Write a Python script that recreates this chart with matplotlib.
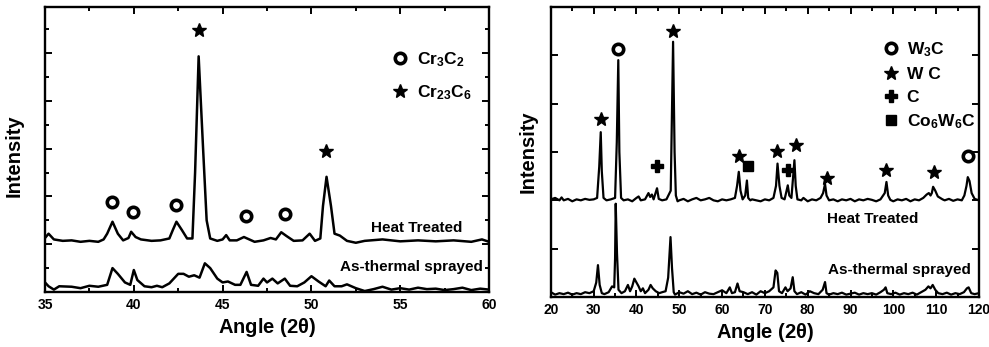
import matplotlib
matplotlib.use("Agg")
import matplotlib.pyplot as plt
from matplotlib.lines import Line2D
from matplotlib.ticker import MultipleLocator, NullFormatter

plt.rcParams['font.family'] = ['Liberation Sans', 'DejaVu Sans']
plt.rcParams['font.weight'] = 'bold'
plt.rcParams['mathtext.fontset'] = 'custom'
plt.rcParams['mathtext.rm'] = 'Liberation Sans:bold'
plt.rcParams['mathtext.bf'] = 'Liberation Sans:bold'
plt.rcParams['mathtext.it'] = 'Liberation Sans:bold'

# ---- left panel: Cr carbide coating (2theta 35-60) ----
cr_ht_x = [35.0, 35.2, 35.5, 36.0, 36.5, 37.0, 37.5, 38.0, 38.3, 38.5, 38.8, 39.1, 39.4, 39.7,
           39.85, 40.1, 40.4, 41.0, 41.5, 42.0, 42.2, 42.4, 42.7, 43.0, 43.3, 43.45, 43.65,
           43.9, 44.1, 44.3, 44.7, 45.0, 45.2, 45.4, 45.8, 46.2, 46.5, 46.8, 47.3, 47.7, 48.0,
           48.3, 48.6, 49.0, 49.5, 49.9, 50.2, 50.5, 50.65, 50.85, 51.1, 51.3, 51.6, 52.0,
           52.5, 53.0, 54.0, 55.0, 56.0, 57.0, 58.0, 59.0, 59.6, 60.0]
cr_ht_y = [1.13, 1.22, 1.10, 1.07, 1.08, 1.05, 1.07, 1.05, 1.10, 1.22, 1.47, 1.22, 1.08, 1.13,
           1.26, 1.15, 1.10, 1.07, 1.08, 1.12, 1.30, 1.47, 1.30, 1.12, 1.12, 2.50, 4.93,
           3.00, 1.50, 1.12, 1.07, 1.10, 1.19, 1.08, 1.08, 1.15, 1.10, 1.05, 1.08, 1.13, 1.10,
           1.25, 1.17, 1.07, 1.08, 1.22, 1.07, 1.12, 1.80, 2.41, 1.80, 1.22, 1.18, 1.07,
           1.03, 1.07, 1.10, 1.06, 1.08, 1.06, 1.08, 1.05, 1.10, 1.05]

cr_as_x = [35.0, 35.2, 35.5, 35.8, 36.5, 37.0, 37.5, 38.0, 38.5, 38.8, 39.1, 39.5, 39.8, 40.0,
           40.2, 40.6, 41.0, 41.3, 41.6, 42.0, 42.5, 42.8, 43.1, 43.4, 43.7, 44.0, 44.3, 44.7,
           45.0, 45.3, 45.7, 46.0, 46.35, 46.6, 47.0, 47.3, 47.5, 47.8, 48.1, 48.5, 48.8,
           49.2, 49.6, 50.0, 50.4, 50.8, 51.0, 51.3, 51.7, 52.0, 52.5, 53.0, 53.5, 54.0,
           54.5, 55.0, 55.5, 56.0, 56.5, 57.0, 57.5, 58.0, 58.5, 59.0, 59.5, 60.0]
cr_as_y = [0.20, 0.12, 0.05, 0.12, 0.11, 0.08, 0.13, 0.11, 0.15, 0.50, 0.38, 0.20, 0.15, 0.46,
           0.25, 0.12, 0.10, 0.13, 0.10, 0.18, 0.38, 0.38, 0.32, 0.35, 0.30, 0.60, 0.50, 0.28,
           0.20, 0.22, 0.15, 0.15, 0.42, 0.15, 0.13, 0.28, 0.20, 0.28, 0.18, 0.28, 0.13,
           0.12, 0.20, 0.33, 0.22, 0.12, 0.24, 0.12, 0.12, 0.16, 0.08, 0.02, 0.06, 0.11,
           0.05, 0.08, 0.05, 0.09, 0.06, 0.07, 0.04, 0.06, 0.09, 0.04, 0.07, 0.05]

cr3c2_x = [38.75, 39.95, 42.35, 46.3, 48.5]
cr3c2_y = [1.89, 1.68, 1.82, 1.59, 1.64]
cr23c6_x = [43.65, 50.8]
cr23c6_y = [5.48, 2.94]

# ---- right panel: WC-Co coating (2theta 20-120) ----
wc_ht_x = [20, 21, 22, 22.5, 23, 24, 25, 26, 27, 28, 29, 30, 30.8, 31.3, 31.65, 31.9, 32.3, 33,
           34, 35, 35.4, 35.75, 36.0, 36.4, 37, 38, 39, 40, 40.5, 41, 42, 42.8, 43.2, 43.6, 44,
           44.8, 45.2, 46, 47, 48.0, 48.55, 48.9, 49.2, 49.6, 50, 51, 52, 53, 54, 55, 56, 57,
           58, 59, 60, 61, 62, 63, 63.5, 63.9, 64.3, 64.8, 65.4, 65.8, 66.1, 66.6, 67, 68, 69,
           70, 71, 72, 72.6, 72.95, 73.4, 73.9, 74.6, 75.05, 75.35, 75.7, 76.2, 76.6, 76.9,
           77.2, 77.6, 78.5, 79, 80, 81, 82, 83, 83.6, 84.05, 84.4, 85, 86, 87, 88, 89, 90,
           91, 92, 93, 94, 95, 96, 97, 98.0, 98.4, 98.8, 99.3, 100, 101, 102, 103, 104, 105,
           106, 107, 107.8, 108.3, 108.7, 109.0, 109.3, 109.8, 110.4, 111.5, 112, 113, 114,
           115, 116, 116.6, 117.1, 117.4, 117.8, 118.3, 119.0, 120]
wc_ht_y = [2.02, 2.05, 2.00, 2.06, 2.00, 2.03, 1.98, 2.02, 2.00, 2.03, 2.01, 2.02, 2.05, 2.70,
           3.41, 2.60, 2.05, 2.00, 2.02, 2.05, 3.20, 4.90, 3.00, 2.05, 2.00, 2.02, 1.98, 2.05,
           2.08, 2.00, 2.02, 2.15, 2.07, 2.12, 2.02, 2.25, 2.03, 2.00, 2.02, 2.20, 5.28, 3.00,
           2.10, 1.98, 2.00, 2.03, 1.98, 2.02, 2.05, 2.00, 2.02, 2.05, 2.00, 1.98, 2.02, 2.00,
           2.02, 2.05, 2.30, 2.59, 2.20, 2.02, 2.10, 2.41, 2.05, 2.00, 2.02, 2.00, 1.98, 2.02,
           2.00, 2.05, 2.30, 2.76, 2.30, 2.05, 2.02, 2.20, 2.31, 2.10, 2.05, 2.50, 2.83, 2.30,
           2.02, 2.00, 2.05, 1.98, 2.02, 2.00, 2.05, 2.15, 2.34, 2.10, 2.00, 2.02, 1.98, 2.02,
           2.00, 2.03, 1.98, 2.02, 2.00, 2.03, 2.01, 1.98, 2.02, 2.15, 2.38, 2.10, 2.01, 1.98,
           2.02, 2.00, 2.03, 1.98, 2.02, 2.00, 2.05, 2.12, 2.15, 2.10, 2.15, 2.28, 2.20, 2.08,
           2.02, 2.00, 2.03, 1.99, 2.02, 2.00, 2.10, 2.30, 2.48, 2.40, 2.15, 2.03, 2.00]

wc_as_x = [20, 21, 22, 23, 24, 25, 26, 27, 28, 29, 30, 30.6, 31.0, 31.4, 31.9, 32.5, 33.5, 34.3,
           34.8, 35.0, 35.15, 35.45, 35.8, 36.5, 37.3, 38, 38.5, 39.0, 39.5, 40.0, 40.5, 41,
           41.5, 42, 42.8, 43.3, 43.8, 44.5, 45.3, 46, 46.8, 47.4, 47.95, 48.3, 48.7, 49, 50,
           51, 52, 53, 54, 55, 56, 57, 58, 59, 60, 61, 61.8, 62.3, 63, 63.6, 64.1, 65, 66, 67,
           68, 69, 70, 71, 72, 72.5, 72.9, 73.3, 74, 74.8, 75.3, 76, 76.5, 76.9, 77.5, 78.5,
           79.5, 80.5, 81.5, 82.5, 83.5, 84.05, 84.4, 85, 86, 87, 88, 89, 90, 91, 92, 93, 94,
           95, 96, 97, 97.8, 98.2, 98.6, 99.5, 100.5, 101.5, 102.5, 103.5, 104.5, 105.5,
           106.5, 107.5, 108.2, 108.7, 109.2, 109.8, 110.5, 111.5, 112.5, 113.5, 114.5,
           115.5, 116.5, 117.2, 117.6, 118.2, 119, 120]
wc_as_y = [0.10, 0.05, 0.08, 0.06, 0.09, 0.05, 0.08, 0.06, 0.10, 0.08, 0.12, 0.30, 0.66, 0.25,
           0.08, 0.06, 0.10, 0.22, 0.20, 0.80, 1.93, 0.90, 0.15, 0.08, 0.12, 0.25, 0.12, 0.22,
           0.38, 0.30, 0.22, 0.12, 0.18, 0.08, 0.15, 0.25, 0.18, 0.12, 0.08, 0.10, 0.12, 0.40,
           1.24, 0.60, 0.10, 0.05, 0.10, 0.07, 0.12, 0.06, 0.09, 0.05, 0.10, 0.07, 0.06, 0.10,
           0.14, 0.08, 0.20, 0.08, 0.10, 0.28, 0.12, 0.10, 0.06, 0.10, 0.05, 0.12, 0.08, 0.12,
           0.20, 0.55, 0.50, 0.12, 0.08, 0.20, 0.12, 0.18, 0.41, 0.12, 0.06, 0.10, 0.05, 0.12,
           0.08, 0.06, 0.15, 0.31, 0.08, 0.05, 0.08, 0.06, 0.09, 0.05, 0.07, 0.09, 0.05, 0.08,
           0.06, 0.08, 0.05, 0.10, 0.15, 0.20, 0.08, 0.06, 0.09, 0.05, 0.08, 0.06, 0.09, 0.05,
           0.10, 0.15, 0.22, 0.18, 0.25, 0.15, 0.08, 0.06, 0.09, 0.05, 0.08, 0.06, 0.10, 0.18,
           0.20, 0.08, 0.06, 0.08]

w3c_x = [35.75, 117.4]
w3c_y = [5.14, 2.91]
wc_x = [31.65, 48.55, 63.9, 72.9, 77.2, 84.5, 98.4, 109.6]
wc_y = [3.69, 5.50, 2.91, 3.02, 3.15, 2.47, 2.63, 2.59]
c_x = [44.9, 75.4]
c_y = [2.72, 2.62]
co6w6c_x = [66.0]
co6w6c_y = [2.71]

fig = plt.figure(figsize=(9.89, 3.47), dpi=100)
ax1 = fig.add_axes([0.0455, 0.1585, 0.449, 0.821])
ax2 = fig.add_axes([0.557, 0.144, 0.4328, 0.836])

ring = dict(marker='o', ms=7.5, mfc='white', mec='black', mew=2.6, ls='none')
star = dict(marker='*', ms=10, color='black', ls='none')
plus = dict(marker='P', ms=8.5, color='black', ls='none')
square = dict(marker='s', ms=7.5, color='black', ls='none')

# left
ax1.plot(cr_ht_x, cr_ht_y, color='black', lw=1.8)
ax1.plot(cr_as_x, cr_as_y, color='black', lw=1.8)
ax1.plot(cr3c2_x, cr3c2_y, **ring)
ax1.plot(cr23c6_x, cr23c6_y, **star)
ax1.text(58.5, 1.33, 'Heat Treated', ha='right', va='center', fontsize=11, fontweight='bold')
ax1.text(59.65, 0.52, 'As-thermal sprayed', ha='right', va='center', fontsize=11,
         fontweight='bold')
ax1.set_xlim(35, 60)
ax1.set_ylim(0, 5.96)
ax1.xaxis.set_major_locator(MultipleLocator(5))
ax1.xaxis.set_minor_locator(MultipleLocator(2.5))
ax1.yaxis.set_major_locator(MultipleLocator(1))
ax1.yaxis.set_minor_locator(MultipleLocator(0.5))
ax1.yaxis.set_major_formatter(NullFormatter())
h1 = [Line2D([], [], **ring), Line2D([], [], **star)]
ax1.legend(h1, [r'Cr$_3$C$_2$', r'Cr$_{23}$C$_6$'], loc='upper left',
           bbox_to_anchor=(0.745, 0.905), frameon=False, fontsize=12.5, handlelength=1.0,
           handletextpad=0.5, labelspacing=0.85)

# right
ax2.plot(wc_ht_x, wc_ht_y, color='black', lw=1.6)
ax2.plot(wc_as_x, wc_as_y, color='black', lw=1.6)
ax2.plot(w3c_x, w3c_y, **ring)
ax2.plot(wc_x, wc_y, **star)
ax2.plot(c_x, c_y, **plus)
ax2.plot(co6w6c_x, co6w6c_y, **square)
ax2.text(95.3, 1.62, 'Heat Treated', ha='center', va='center', fontsize=11,
         fontweight='bold')
ax2.text(118.2, 0.55, 'As-thermal sprayed', ha='right', va='center', fontsize=11,
         fontweight='bold')
ax2.set_xlim(20, 120)
ax2.set_ylim(0, 6)
ax2.xaxis.set_major_locator(MultipleLocator(10))
ax2.xaxis.set_minor_locator(MultipleLocator(5))
ax2.yaxis.set_major_locator(MultipleLocator(1))
ax2.yaxis.set_major_formatter(NullFormatter())
h2 = [Line2D([], [], **ring), Line2D([], [], **star), Line2D([], [], **plus),
      Line2D([], [], **square)]
ax2.legend(h2, [r'W$_3$C', 'W C', 'C', r'Co$_6$W$_6$C'], loc='upper left',
           bbox_to_anchor=(0.738, 0.94), frameon=False, fontsize=12.5, handlelength=1.0,
           handletextpad=0.4, labelspacing=0.45)

for ax in (ax1, ax2):
    for s in ax.spines.values():
        s.set_linewidth(1.7)
    ax.tick_params(which='both', direction='in', top=True, right=True, width=1.4,
                   labelsize=10, pad=4)
    ax.tick_params(which='major', length=5)
    ax.tick_params(which='minor', length=3)
    ax.set_xlabel(r'Angle (2$\theta$)', fontsize=14.5, fontweight='bold', labelpad=3)
    ax.set_ylabel('Intensity', fontsize=14.5, fontweight='bold')
    for lab in ax.get_xticklabels():
        lab.set_fontweight('bold')

ax1.yaxis.set_label_coords(-0.048, 0.48)
ax2.yaxis.set_label_coords(-0.032, 0.5)

fig.savefig('out.png', dpi=100)
